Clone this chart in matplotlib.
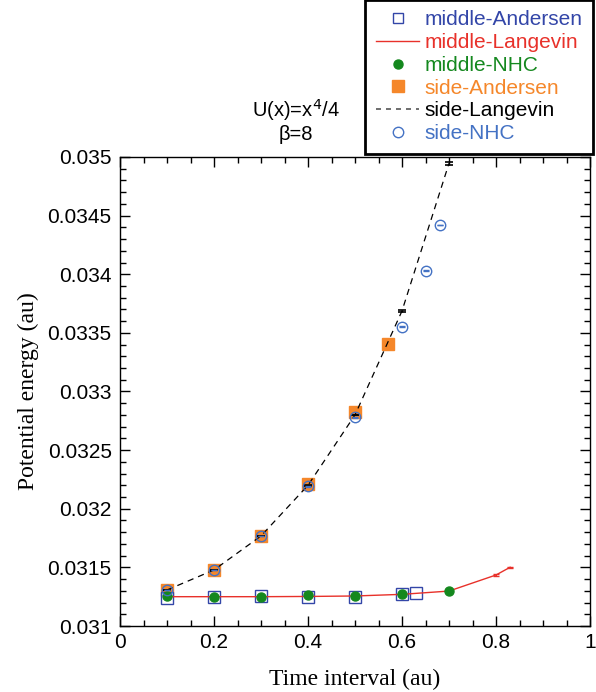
import matplotlib
matplotlib.use("Agg")
import matplotlib.pyplot as plt
from matplotlib.ticker import MultipleLocator, FuncFormatter
from matplotlib.lines import Line2D

# ---- data ----
mid_and_x = [0.1, 0.2, 0.3, 0.4, 0.5, 0.6, 0.63]
mid_and_y = [0.031236, 0.03125, 0.031258, 0.03125, 0.03125, 0.031275, 0.031284]

mid_lan_x = [0.1, 0.2, 0.3, 0.4, 0.5, 0.6, 0.7, 0.8, 0.83]
mid_lan_y = [0.03125, 0.03125, 0.03125, 0.031252, 0.031256, 0.03127, 0.031298, 0.031435, 0.031501]
mid_lan_err = [0.000002, 0.000002, 0.000002, 0.000002, 0.000002, 0.000002, 0.000003, 0.000006, 0.000006]

mid_nhc_x = [0.1, 0.2, 0.3, 0.4, 0.5, 0.6, 0.7]
mid_nhc_y = [0.031256, 0.03125, 0.031245, 0.031262, 0.031256, 0.03127, 0.031298]

side_and_x = [0.1, 0.2, 0.3, 0.4, 0.5, 0.57]
side_and_y = [0.031307, 0.031478, 0.031768, 0.03221, 0.032828, 0.033408]

side_lan_x = [0.1, 0.2, 0.3, 0.4, 0.5, 0.6, 0.7]
side_lan_y = [0.031307, 0.031478, 0.031768, 0.0322, 0.0328, 0.033687, 0.034946]
side_lan_err = [0.000002, 0.000002, 0.000002, 0.000002, 0.000003, 0.000008, 0.000010]

side_nhc_x = [0.1, 0.2, 0.3, 0.4, 0.5, 0.6, 0.65, 0.68]
side_nhc_y = [0.031307, 0.031478, 0.031768, 0.03219, 0.03278, 0.033553, 0.03403, 0.03442]
side_nhc_err = [0.000002, 0.000002, 0.000002, 0.000003, 0.000003, 0.000004, 0.000004, 0.000004]

labels = ["middle-Andersen", "middle-Langevin", "middle-NHC",
          "side-Andersen", "side-Langevin", "side-NHC"]

c_mand = "#3346A8"
c_mlan = "#E8312A"
c_mnhc = "#14881E"
c_sand = "#F5872A"
c_slan = "#000000"
c_snhc = "#4472C4"

sans = ["Liberation Sans", "DejaVu Sans"]
serif = ["Liberation Serif", "DejaVu Serif"]

fig = plt.figure(figsize=(5.96, 6.92), dpi=100)
ax = fig.add_axes([120/596, (692-626)/692, 470/596, (626-157)/692])

ax.plot(side_and_x, side_and_y, ls="none", marker="s", ms=9, mfc=c_sand, mec=c_sand, zorder=2)
ax.plot(mid_and_x, mid_and_y, ls="none", marker="s", ms=8.5, mfc="white", mec=c_mand, mew=1.0, zorder=2)
ax.errorbar(side_lan_x, side_lan_y, yerr=side_lan_err, color=c_slan, lw=0.9, ls=(0, (5, 4)),
            capsize=3, elinewidth=0.9, capthick=1.2, zorder=3)
ax.errorbar(mid_lan_x, mid_lan_y, yerr=mid_lan_err, color=c_mlan, lw=1.0,
            capsize=2, elinewidth=0.8, capthick=1.0, zorder=3)
ax.plot(mid_nhc_x, mid_nhc_y, ls="none", marker="o", ms=6.5, mfc=c_mnhc, mec=c_mnhc, zorder=4)
ax.errorbar(side_nhc_x, side_nhc_y, yerr=side_nhc_err, ls="none", marker="o", ms=7.5,
            mfc="none", mec=c_snhc, mew=1.0, ecolor=c_snhc, elinewidth=0.8,
            capsize=2, zorder=5)

ax.set_xlim(0, 1)
ax.set_ylim(0.031, 0.035)
ax.xaxis.set_major_locator(MultipleLocator(0.2))
ax.xaxis.set_minor_locator(MultipleLocator(0.05))
ax.yaxis.set_major_locator(MultipleLocator(0.0005))
ax.yaxis.set_minor_locator(MultipleLocator(0.0001))

def fmt(v, pos):
    return ("%.4f" % v).rstrip("0").rstrip(".")
ax.xaxis.set_major_formatter(FuncFormatter(fmt))
ax.yaxis.set_major_formatter(FuncFormatter(fmt))

ax.tick_params(which="both", direction="in", top=True, right=True, width=1.0)
ax.tick_params(which="major", length=7, labelsize=15)
ax.tick_params(which="minor", length=4)
for lab in ax.get_xticklabels() + ax.get_yticklabels():
    lab.set_family(sans)
ax.tick_params(axis="x", pad=5)
ax.tick_params(axis="y", pad=6)
for s in ax.spines.values():
    s.set_linewidth(1.0)

ax.set_xlabel("Time interval (au)", family=serif, fontsize=17, labelpad=12)
ax.set_ylabel("Potential energy (au)", family=serif, fontsize=17, labelpad=6)

fig.text(296/596, 1 - 110/692, "U(x)=x$^4$/4", family=sans, fontsize=14.5, ha="center", va="center")
fig.text(296/596, 1 - 135/692, "\u03b2=8", family=sans, fontsize=14.5, ha="center", va="center")

handles = [
    Line2D([], [], ls="none", marker="s", ms=7.5, mfc="white", mec=c_mand),
    Line2D([], [], color=c_mlan, lw=1.0),
    Line2D([], [], ls="none", marker="o", ms=6.5, mfc=c_mnhc, mec=c_mnhc),
    Line2D([], [], ls="none", marker="s", ms=8.5, mfc=c_sand, mec=c_sand),
    Line2D([], [], color="#555555", lw=1.2, ls=(0, (3, 3))),
    Line2D([], [], ls="none", marker="o", ms=7.5, mfc="none", mec=c_snhc),
]
leg = fig.legend(handles, labels, loc="upper right", bbox_to_anchor=(593/596, 1 - 0/692),
                 prop={"family": sans, "size": 15}, frameon=True, fancybox=False,
                 edgecolor="black", framealpha=1, handlelength=2.1, handletextpad=0.25,
                 labelspacing=0.18, borderpad=0.5, borderaxespad=0)
leg.get_frame().set_linewidth(2)
for t, c in zip(leg.get_texts(), [c_mand, c_mlan, c_mnhc, c_sand, c_slan, c_snhc]):
    t.set_color(c)

fig.savefig("out.png", dpi=100)
